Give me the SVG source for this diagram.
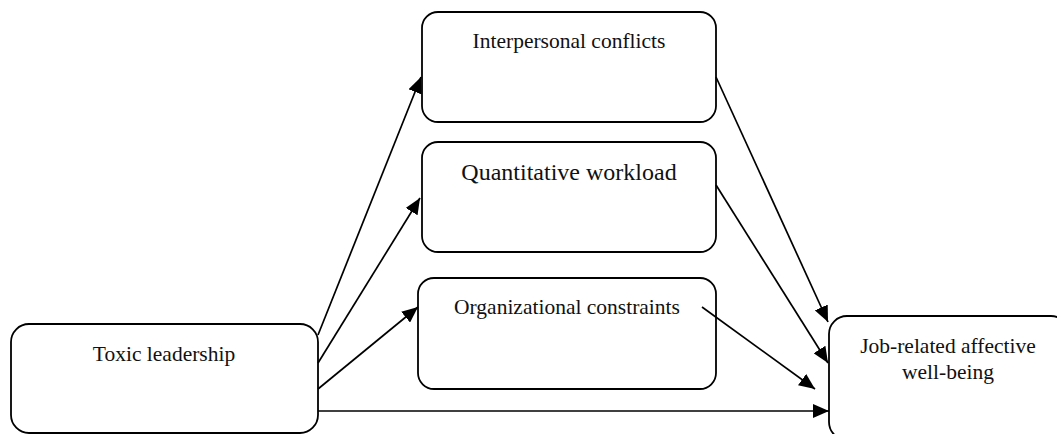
<svg xmlns="http://www.w3.org/2000/svg" width="1057" height="434" viewBox="0 0 1057 434">
<style>
.box{fill:#fff;stroke:#000;stroke-width:1.8}
.lbl{font-family:"Liberation Serif","Times New Roman",serif;font-size:21.5px;fill:#111;text-anchor:middle}
.con{stroke:#000;stroke-width:1.7;fill:none;marker-end:url(#ah)}
</style>
<defs>
<marker id="ah" markerUnits="userSpaceOnUse" markerWidth="17" markerHeight="14" refX="16" refY="7" orient="auto">
<path d="M0,0 L16,7 L0,14 z" fill="#000"/>
</marker>
</defs>
<rect width="1057" height="434" fill="#fff"/>
<g id="toxic">
<rect class="box" x="11" y="324" width="307" height="109" rx="18"/>
<text class="lbl" x="164" y="361">Toxic leadership</text>
</g>
<g id="interpersonal">
<rect class="box" x="422" y="12" width="294" height="110" rx="16"/>
<text class="lbl" x="569" y="48">Interpersonal conflicts</text>
</g>
<g id="workload">
<rect class="box" x="422" y="142" width="294" height="110" rx="16"/>
<text class="lbl" x="569" y="180" style="font-size:24px">Quantitative workload</text>
</g>
<g id="constraints">
<rect class="box" x="418" y="278" width="298" height="111" rx="16"/>
<text class="lbl" x="567" y="314">Organizational constraints</text>
</g>
<g id="wellbeing">
<rect class="box" x="829" y="316" width="240" height="124" rx="18"/>
<text class="lbl" x="948" y="353">Job-related affective</text>
<text class="lbl" x="948" y="379">well-being</text>
</g>
<g id="connectors">
<line class="con" x1="318" y1="335" x2="421" y2="77"/>
<line class="con" x1="318" y1="363" x2="420" y2="198"/>
<line class="con" x1="318" y1="389" x2="418" y2="307"/>
<line class="con" x1="318" y1="411" x2="829" y2="411"/>
<line class="con" x1="716" y1="77" x2="828" y2="322"/>
<line class="con" x1="716" y1="185" x2="828" y2="363"/>
<line class="con" x1="702" y1="307" x2="815" y2="389"/>
</g>
</svg>
